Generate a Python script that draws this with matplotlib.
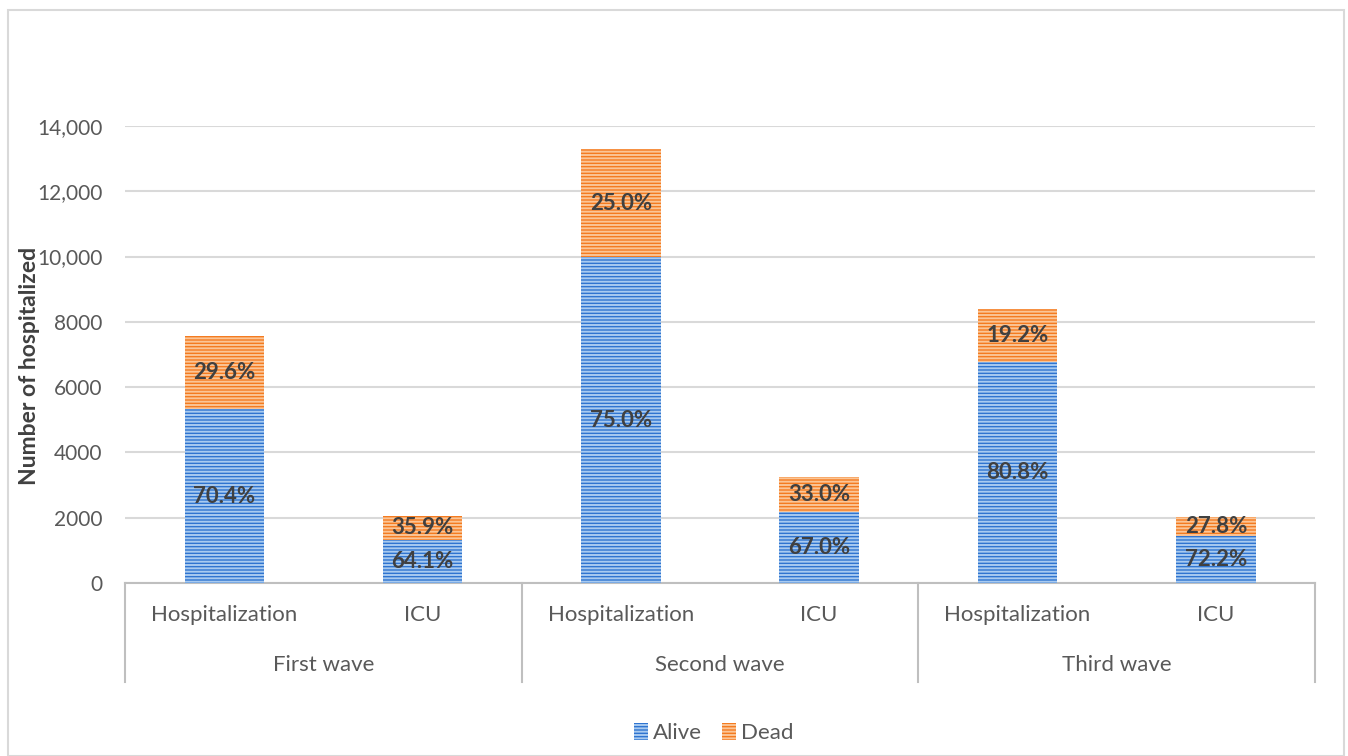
import numpy as np
import matplotlib
matplotlib.use("Agg")
import matplotlib.pyplot as plt
from matplotlib.patches import Rectangle, Patch
from matplotlib.ticker import FuncFormatter

plt.rcParams['font.family'] = ['Lato', 'DejaVu Sans']
plt.rcParams['hatch.linewidth'] = 1.4

groups = ["First wave", "Second wave", "Third wave"]
cats = ["Hospitalization", "ICU", "Hospitalization", "ICU", "Hospitalization", "ICU"]
alive = [5320, 1320, 9975, 2178, 6770, 1450]
dead = [2240, 740, 3325, 1072, 1610, 560]
alive_lbl = ["70.4%", "64.1%", "75.0%", "67.0%", "80.8%", "72.2%"]
dead_lbl = ["29.6%", "35.9%", "25.0%", "33.0%", "19.2%", "27.8%"]

blue, blue_h = "#2F74D0", "#A8CAF0"
orange, orange_h = "#F47B20", "#FBC596"
grid_c = "#D9D9D9"
txt = "#404040"
tick_c = "#595959"

W, H = 1348, 756
fig = plt.figure(figsize=(W / 100, H / 100), dpi=100)
fig.patches.append(Rectangle((8 / W, 0), (1344 - 8) / W, 1 - 10 / H, transform=fig.transFigure,
                             fill=False, edgecolor=grid_c, linewidth=1.5))
ax = fig.add_axes([125 / W, 1 - 583 / H, (1315 - 125) / W, (583 - 126) / H])

x = np.arange(len(cats))
b1 = ax.bar(x, alive, 0.4, color=blue, edgecolor=blue_h, linewidth=0, hatch="-----", zorder=3)
b2 = ax.bar(x, dead, 0.4, bottom=alive, color=orange, edgecolor=orange_h, linewidth=0, hatch="-----", zorder=3)

for i in range(len(cats)):
    ax.text(x[i], alive[i] / 2, alive_lbl[i], ha="center", va="center", fontsize=16,
            fontweight="bold", color=txt, zorder=4)
    ax.text(x[i], alive[i] + dead[i] / 2, dead_lbl[i], ha="center", va="center", fontsize=16,
            fontweight="bold", color=txt, zorder=4)

ax.set_xlim(-0.5, len(cats) - 0.5)
ax.set_ylim(0, 14000)
ax.set_yticks(np.arange(0, 14001, 2000))
ax.yaxis.set_major_formatter(FuncFormatter(lambda v, p: f"{int(v):,}" if v >= 10000 else f"{int(v)}"))
ax.grid(axis="y", color=grid_c, linewidth=1.5, zorder=0)
ax.tick_params(axis="y", length=0, pad=16, labelsize=15, labelcolor=tick_c)
ax.set_xticks([])
for s in ["top", "right", "left"]:
    ax.spines[s].set_visible(False)
ax.spines["bottom"].set_color("#BFBFBF")
ax.spines["bottom"].set_linewidth(1.5)

ax.set_ylabel("Number of hospitalized", fontsize=16.5, fontweight="bold", color=txt)
ax.yaxis.set_label_coords(-0.0715, 0.475)

# two-level category axis
for i, c in enumerate(cats):
    ax.text(x[i], -0.07, c, transform=ax.get_xaxis_transform(), ha="center", va="center",
            fontsize=16, color=tick_c)
for g, name in enumerate(groups):
    ax.text(2 * g + 0.5, -0.179, name, transform=ax.get_xaxis_transform(), ha="center",
            va="center", fontsize=16, color=tick_c)
for xs in [-0.5, 1.5, 3.5, 5.5]:
    ax.plot([xs, xs], [0, -0.2166], transform=ax.get_xaxis_transform(), color="#BFBFBF",
            linewidth=1.5, clip_on=False)

handles = [Patch(facecolor=blue, edgecolor=blue_h, linewidth=0, hatch="-----", label="Alive"),
           Patch(facecolor=orange, edgecolor=orange_h, linewidth=0, hatch="-----", label="Dead")]
fig.legend(handles=handles, loc="center", bbox_to_anchor=(714 / W, 1 - 733 / H), ncol=2,
           frameon=False, fontsize=16, labelcolor=tick_c, handlelength=0.6, handleheight=0.8,
           handletextpad=0.25, columnspacing=0.9)

fig.savefig("out.png", dpi=100)
